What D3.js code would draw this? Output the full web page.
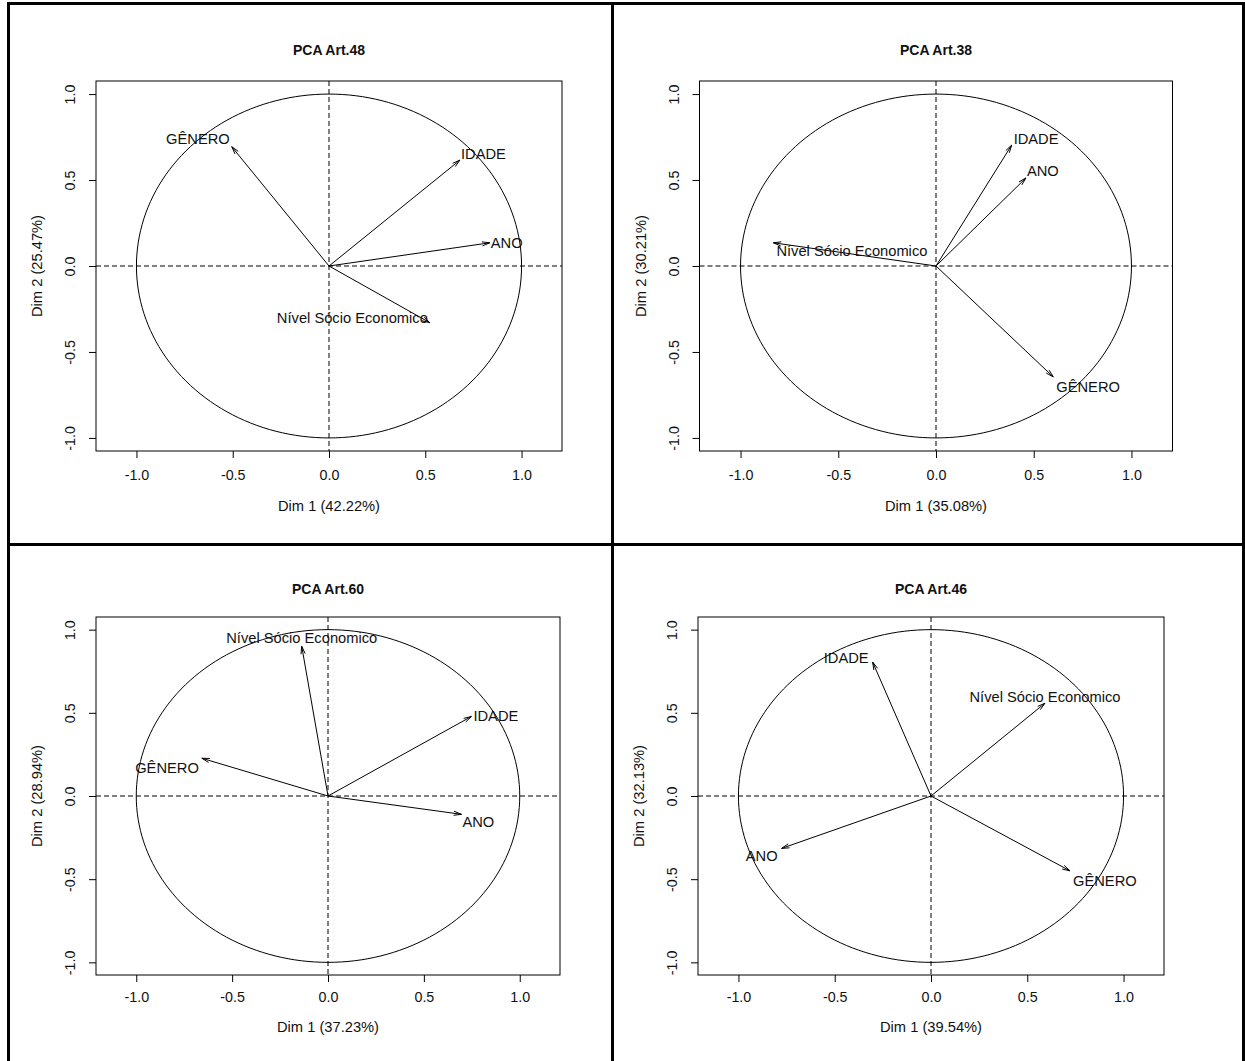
<!DOCTYPE html>
<html>
<head>
<meta charset="utf-8">
<script src="https://cdn.jsdelivr.net/npm/d3@7"></script>
<style>
  html, body { margin: 0; padding: 0; background: #fff; }
  svg { display: block; }
  text { font-family: "Liberation Sans", Arial, sans-serif; fill: #111; }
</style>
</head>
<body>
<svg id="chart" width="1245" height="1061"></svg>
<script>
// Variables shown in each correlation circle
const variables = ["GÊNERO", "IDADE", "ANO", "Nível Sócio Economico"];

// One entry per panel
const panelTitles = ["PCA Art.48", "PCA Art.38", "PCA Art.60", "PCA Art.46"];
const dim1Percent = [42.22, 35.08, 37.23, 39.54];
const dim2Percent = [25.47, 30.21, 28.94, 32.13];

// Variable coordinates (correlations) on Dim 1 and Dim 2, in the order of `variables`
const dim1Coords = [
  [-0.505, 0.680, 0.835, 0.524],
  [0.600, 0.387, 0.460, -0.832],
  [-0.658, 0.748, 0.696, -0.137],
  [0.722, -0.303, -0.776, 0.592]
];
const dim2Coords = [
  [0.694, 0.616, 0.135, -0.330],
  [-0.645, 0.703, 0.512, 0.135],
  [0.227, 0.478, -0.110, 0.900],
  [-0.450, 0.805, -0.315, 0.558]
];

// Axis ticks
const tickValues = [-1.0, -0.5, 0.0, 0.5, 1.0];

// ---- layout ----
const panelBoxes = [
  { L: 96,    R: 562,    T: 81,  B: 451, titleGap: 31, tickGap: 24, labGap: 55 },
  { L: 699.5, R: 1172.5, T: 81,  B: 451, titleGap: 31, tickGap: 24, labGap: 55 },
  { L: 96,    R: 560,    T: 617, B: 975, titleGap: 28, tickGap: 22, labGap: 52 },
  { L: 698,   R: 1164,   T: 617, B: 975, titleGap: 28, tickGap: 22, labGap: 52 }
];
// label placement for each variable: text anchor and offset from the arrow tip (px)
const labelPlacement = [
  [["end", -2, -8], ["start", 1, -6], ["start", 1, 0], ["end", -2, -5]],
  [["start", 3, 10], ["start", 2, -6], ["start", 1, -7], ["start", 3, 8]],
  [["end", -3, 10], ["start", 2, 0], ["start", 1, 8], ["middle", 0, -8]],
  [["start", 3, 10], ["end", -4, -4], ["end", -4, 8], ["middle", 0, -6]]
];
const xExtent = [-1.21, 1.21];
const yExtent = [-1.076, 1.076];
const fmt = d => d.toFixed(1);
const textSize = "14.7px";
const tickSize = "14.3px";

const svg = d3.select("#chart");

panelTitles.forEach((title, p) => {
  const box = panelBoxes[p];
  const x = d3.scaleLinear().domain(xExtent).range([box.L, box.R]);
  const y = d3.scaleLinear().domain(yExtent).range([box.B, box.T]);
  const g = svg.append("g");
  const cx = x(0), cy = y(0);

  // title
  g.append("text")
    .attr("x", (box.L + box.R) / 2)
    .attr("y", box.T - box.titleGap)
    .attr("text-anchor", "middle")
    .attr("dominant-baseline", "central")
    .style("font-size", "14px")
    .style("font-weight", "bold")
    .text(title);

  // reference axes through the origin
  g.append("line")
    .attr("x1", box.L).attr("x2", box.R).attr("y1", cy).attr("y2", cy)
    .attr("stroke", "#000").attr("stroke-width", 1).attr("stroke-dasharray", "5,3");
  g.append("line")
    .attr("x1", cx).attr("x2", cx).attr("y1", box.T).attr("y2", box.B)
    .attr("stroke", "#000").attr("stroke-width", 1).attr("stroke-dasharray", "5,3");

  // unit circle
  const circlePts = d3.range(0, 361, 2).map(a => [Math.cos(a * Math.PI / 180), Math.sin(a * Math.PI / 180)]);
  g.append("path")
    .attr("d", d3.line().x(d => x(d[0])).y(d => y(d[1]))(circlePts))
    .attr("fill", "none").attr("stroke", "#000").attr("stroke-width", 1);

  // arrows
  variables.forEach((name, i) => {
    const vx = dim1Coords[p][i], vy = dim2Coords[p][i];
    const tx = x(vx), ty = y(vy);
    g.append("line")
      .attr("x1", cx).attr("y1", cy).attr("x2", tx).attr("y2", ty)
      .attr("stroke", "#000").attr("stroke-width", 1);
    const ang = Math.atan2(ty - cy, tx - cx);
    const head = 8, spread = 15 * Math.PI / 180;
    const p1 = [tx - head * Math.cos(ang - spread), ty - head * Math.sin(ang - spread)];
    const p2 = [tx - head * Math.cos(ang + spread), ty - head * Math.sin(ang + spread)];
    g.append("path")
      .attr("d", `M${p1[0]},${p1[1]}L${tx},${ty}L${p2[0]},${p2[1]}`)
      .attr("fill", "none").attr("stroke", "#000").attr("stroke-width", 1);
    const [anchor, dx, dy] = labelPlacement[p][i];
    g.append("text")
      .attr("x", tx + dx).attr("y", ty + dy)
      .attr("text-anchor", anchor)
      .attr("dominant-baseline", "central")
      .style("font-size", textSize)
      .text(name);
  });

  // bottom axis
  const xAxis = g.append("g")
    .attr("transform", `translate(0,${box.B})`)
    .call(d3.axisBottom(x).tickValues(tickValues).tickSize(7).tickFormat(""));
  xAxis.select(".domain").remove();
  xAxis.selectAll(".tick line").attr("stroke", "#000");
  xAxis.selectAll(".tick").append("text")
    .attr("y", box.tickGap)
    .attr("text-anchor", "middle")
    .attr("dominant-baseline", "central")
    .style("font-size", tickSize)
    .text(fmt);

  // left axis
  const yAxis = g.append("g")
    .attr("transform", `translate(${box.L},0)`)
    .call(d3.axisLeft(y).tickValues(tickValues).tickSize(7).tickFormat(""));
  yAxis.select(".domain").remove();
  yAxis.selectAll(".tick line").attr("stroke", "#000");
  yAxis.selectAll(".tick").append("text")
    .attr("transform", "translate(-26,0) rotate(-90)")
    .attr("text-anchor", "middle")
    .attr("dominant-baseline", "central")
    .style("font-size", tickSize)
    .text(fmt);

  // axis titles
  g.append("text")
    .attr("x", cx).attr("y", box.B + box.labGap)
    .attr("text-anchor", "middle")
    .attr("dominant-baseline", "central")
    .style("font-size", textSize)
    .text(`Dim 1 (${dim1Percent[p].toFixed(2)}%)`);
  g.append("text")
    .attr("transform", `translate(${box.L - 59},${(box.T + box.B) / 2}) rotate(-90)`)
    .attr("text-anchor", "middle")
    .attr("dominant-baseline", "central")
    .style("font-size", textSize)
    .text(`Dim 2 (${dim2Percent[p].toFixed(2)}%)`);

  // plot box
  g.append("rect")
    .attr("x", box.L).attr("y", box.T)
    .attr("width", box.R - box.L).attr("height", box.B - box.T)
    .attr("fill", "none").attr("stroke", "#000").attr("stroke-width", 1);
});

// heavy frame separating the four panels
const frame = svg.append("g").attr("stroke", "#000").attr("stroke-width", 3);
frame.append("line").attr("x1", 7).attr("x2", 1245).attr("y1", 3.5).attr("y2", 3.5);
frame.append("line").attr("x1", 8.5).attr("x2", 8.5).attr("y1", 2).attr("y2", 1061);
frame.append("line").attr("x1", 612.5).attr("x2", 612.5).attr("y1", 2).attr("y2", 1061);
frame.append("line").attr("x1", 7).attr("x2", 1245).attr("y1", 544.5).attr("y2", 544.5);
frame.append("line").attr("x1", 1243.5).attr("x2", 1243.5).attr("y1", 2).attr("y2", 1061);
</script>
</body>
</html>
